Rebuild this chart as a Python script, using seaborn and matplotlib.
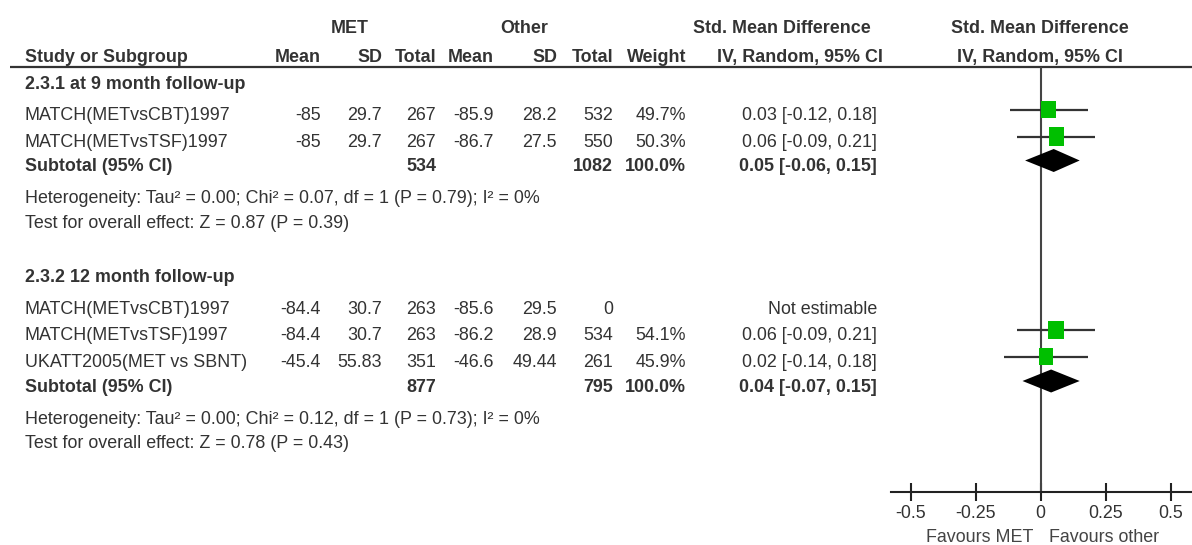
import matplotlib
matplotlib.use("Agg")
import matplotlib.pyplot as plt
from matplotlib import font_manager
import seaborn as sns
import pandas as pd
import numpy as np

# ---------------- data ----------------
group_titles = ["2.3.1 at 9 month follow-up", "2.3.2 12 month follow-up"]

g1_study = ["MATCH(METvsCBT)1997", "MATCH(METvsTSF)1997"]
g1_met_mean = [-85, -85]
g1_met_sd = [29.7, 29.7]
g1_met_n = [267, 267]
g1_oth_mean = [-85.9, -86.7]
g1_oth_sd = [28.2, 27.5]
g1_oth_n = [532, 550]
g1_weight = [49.7, 50.3]
g1_smd = [0.03, 0.06]
g1_lo = [-0.12, -0.09]
g1_hi = [0.18, 0.21]
g1_sub_n = [534, 1082]
g1_sub_est = [0.05, -0.06, 0.15]
g1_het = "Heterogeneity: Tau² = 0.00; Chi² = 0.07, df = 1 (P = 0.79); I² = 0%"
g1_test = "Test for overall effect: Z = 0.87 (P = 0.39)"

g2_study = ["MATCH(METvsCBT)1997", "MATCH(METvsTSF)1997", "UKATT2005(MET vs SBNT)"]
g2_met_mean = [-84.4, -84.4, -45.4]
g2_met_sd = [30.7, 30.7, 55.83]
g2_met_n = [263, 263, 351]
g2_oth_mean = [-85.6, -86.2, -46.6]
g2_oth_sd = [29.5, 28.9, 49.44]
g2_oth_n = [0, 534, 261]
g2_weight = [None, 54.1, 45.9]
g2_smd = [None, 0.06, 0.02]
g2_lo = [None, -0.09, -0.14]
g2_hi = [None, 0.21, 0.18]
g2_sub_n = [877, 795]
g2_sub_est = [0.04, -0.07, 0.15]
g2_het = "Heterogeneity: Tau² = 0.00; Chi² = 0.12, df = 1 (P = 0.73); I² = 0%"
g2_test = "Test for overall effect: Z = 0.78 (P = 0.43)"

x_ticks = [-0.5, -0.25, 0, 0.25, 0.5]
x_tick_labels = ["-0.5", "-0.25", "0", "0.25", "0.5"]
favours_left = "Favours MET"
favours_right = "Favours other"

# ---------------- style / layout ----------------
sns.set_theme(style="white")
names = {f.name for f in font_manager.fontManager.ttflist}
FAM = "Liberation Sans Narrow" if "Liberation Sans Narrow" in names else "Liberation Sans"
plt.rcParams["font.family"] = [FAM, "DejaVu Sans"]

W, H = 1192, 545
fig = plt.figure(figsize=(W / 100, H / 100), dpi=100)
fig.patch.set_facecolor("white")
renderer = fig.canvas.get_renderer()
probe = fig.text(0, 0, "MATCH(METvsCBT)1997", fontsize=10)
FS = 10 * 205 / probe.get_window_extent(renderer).width
probe.remove()

TXT = "#333333"
axT = fig.add_axes([0, 0, 1, 1])
axT.set_xlim(0, W)
axT.set_ylim(H, 0)
axT.axis("off")

def t(x, y, s, ha="left", bold=False, color=TXT, va="baseline"):
    axT.text(x, y, s, ha=ha, va=va, fontsize=FS, color=color,
             fontweight="bold" if bold else "normal")

# column right edges
COL = dict(mm=321, msd=382, mn=436, om=494, osd=557, on=613, w=686, ci=877)
LEFT = 25

# header
t(350, 33, "MET", ha="center", bold=True)
t(524, 33, "Other", ha="center", bold=True)
t(782, 33, "Std. Mean Difference", ha="center", bold=True)
t(1040, 33, "Std. Mean Difference", ha="center", bold=True)
t(LEFT, 62, "Study or Subgroup", bold=True)
for key, lab in [("mm", "Mean"), ("msd", "SD"), ("mn", "Total"), ("om", "Mean"),
                 ("osd", "SD"), ("on", "Total"), ("w", "Weight")]:
    t(COL[key], 62, lab, ha="right", bold=True)
t(883, 62, "IV, Random, 95% CI", ha="right", bold=True)
t(1040, 62, "IV, Random, 95% CI", ha="center", bold=True)
axT.plot([10, W], [67, 67], color=TXT, lw=1.6, solid_capstyle="butt")

fmt = lambda v: f"{v:g}"

groups = [
    dict(title=group_titles[0], study=g1_study, mm=g1_met_mean, msd=g1_met_sd, mn=g1_met_n,
         om=g1_oth_mean, osd=g1_oth_sd, on=g1_oth_n, w=g1_weight, smd=g1_smd, lo=g1_lo,
         hi=g1_hi, sub_n=g1_sub_n, sub=g1_sub_est, het=g1_het, test=g1_test,
         ybase=[89, 120, 147, 171, 203, 228]),
    dict(title=group_titles[1], study=g2_study, mm=g2_met_mean, msd=g2_met_sd, mn=g2_met_n,
         om=g2_oth_mean, osd=g2_oth_sd, on=g2_oth_n, w=g2_weight, smd=g2_smd, lo=g2_lo,
         hi=g2_hi, sub_n=g2_sub_n, sub=g2_sub_est, het=g2_het, test=g2_test,
         ybase=[282.5, 313.5, 340.5, 367, 391.5, 423.5, 448.5]),
]

rows = []      # study marks
subs = []      # diamonds
OFF = 10.5
for g in groups:
    yb = g["ybase"]
    n = len(g["study"])
    t(LEFT, yb[0], g["title"], bold=True)
    for i in range(n):
        y = yb[1 + i]
        t(LEFT, y, g["study"][i])
        for key in ["mm", "msd", "mn", "om", "osd", "on"]:
            t(COL[key], y, fmt(g[key][i]), ha="right")
        if g["smd"][i] is None:
            t(COL["ci"], y, "Not estimable", ha="right")
        else:
            t(COL["w"], y, f"{g['w'][i]:.1f}%", ha="right")
            t(COL["ci"], y, f"{g['smd'][i]:.2f} [{g['lo'][i]:.2f}, {g['hi'][i]:.2f}]", ha="right")
            rows.append(dict(y=y - OFF, smd=g["smd"][i], lo=g["lo"][i], hi=g["hi"][i], w=g["w"][i]))
    ys = yb[1 + n]
    t(LEFT, ys, "Subtotal (95% CI)", bold=True)
    t(COL["mn"], ys, str(g["sub_n"][0]), ha="right", bold=True)
    t(COL["on"], ys, str(g["sub_n"][1]), ha="right", bold=True)
    t(COL["w"], ys, "100.0%", ha="right", bold=True)
    e, l, h = g["sub"]
    t(COL["ci"], ys, f"{e:.2f} [{l:.2f}, {h:.2f}]", ha="right", bold=True)
    subs.append(dict(y=ys - OFF, est=e, lo=l, hi=h))
    t(LEFT, yb[2 + n], g["het"])
    t(LEFT, yb[3 + n], g["test"])

# ---------------- forest plot ----------------
AX_L, AX_R, AX_TOP, AX_BOT = 891, 1192, 67, 492
PX_PER_UNIT = 260.0
ZERO_PX = 1040.7
axF = fig.add_axes([AX_L / W, (H - AX_BOT) / H, (AX_R - AX_L) / W, (AX_BOT - AX_TOP) / H])
axF.patch.set_alpha(0)
axF.set_xlim((AX_L - ZERO_PX) / PX_PER_UNIT, (AX_R - ZERO_PX) / PX_PER_UNIT)
axF.set_ylim(AX_BOT, AX_TOP)
for s in ["top", "left", "right"]:
    axF.spines[s].set_visible(False)
axF.spines["bottom"].set_color("#222222")
axF.spines["bottom"].set_linewidth(1.5)
axF.set_yticks([])
axF.set_xticks(x_ticks)
axF.set_xticklabels(x_tick_labels)
axF.tick_params(axis="x", direction="inout", length=13, width=1.5, color="#222222",
                labelsize=FS, labelcolor=TXT, pad=3, bottom=True)
axF.axvline(0, color="#444444", lw=1.5, zorder=1)

df = pd.DataFrame(rows)
axF.hlines(df["y"], df["lo"], df["hi"], color="#333333", lw=1.6, zorder=2)
rect = [(-0.42, -0.5), (0.42, -0.5), (0.42, 0.5), (-0.42, 0.5), (-0.42, -0.5)]
# square height ~ 2.55*sqrt(weight) px  ->  area in pt^2
size_map = {w: (2.55 * np.sqrt(w) * 0.72) ** 2 for w in df["w"]}
sns.scatterplot(data=df, x="smd", y="y", size="w", sizes=size_map, marker=rect,
                color="#00BF00", edgecolor="none", linewidth=0, legend=False, ax=axF, zorder=3)
axF.set_xlabel("")
axF.set_ylabel("")

HALF_H = 11.5
for d in subs:
    axF.fill([d["lo"], d["est"], d["hi"], d["est"]],
             [d["y"], d["y"] - HALF_H, d["y"], d["y"] + HALF_H],
             color="black", lw=0, zorder=3)

t(1033, 537, favours_left, ha="right", color="#444444", va="center")
t(1049, 537, favours_right, ha="left", color="#444444", va="center")

fig.savefig("out.png", dpi=100, facecolor="white")
